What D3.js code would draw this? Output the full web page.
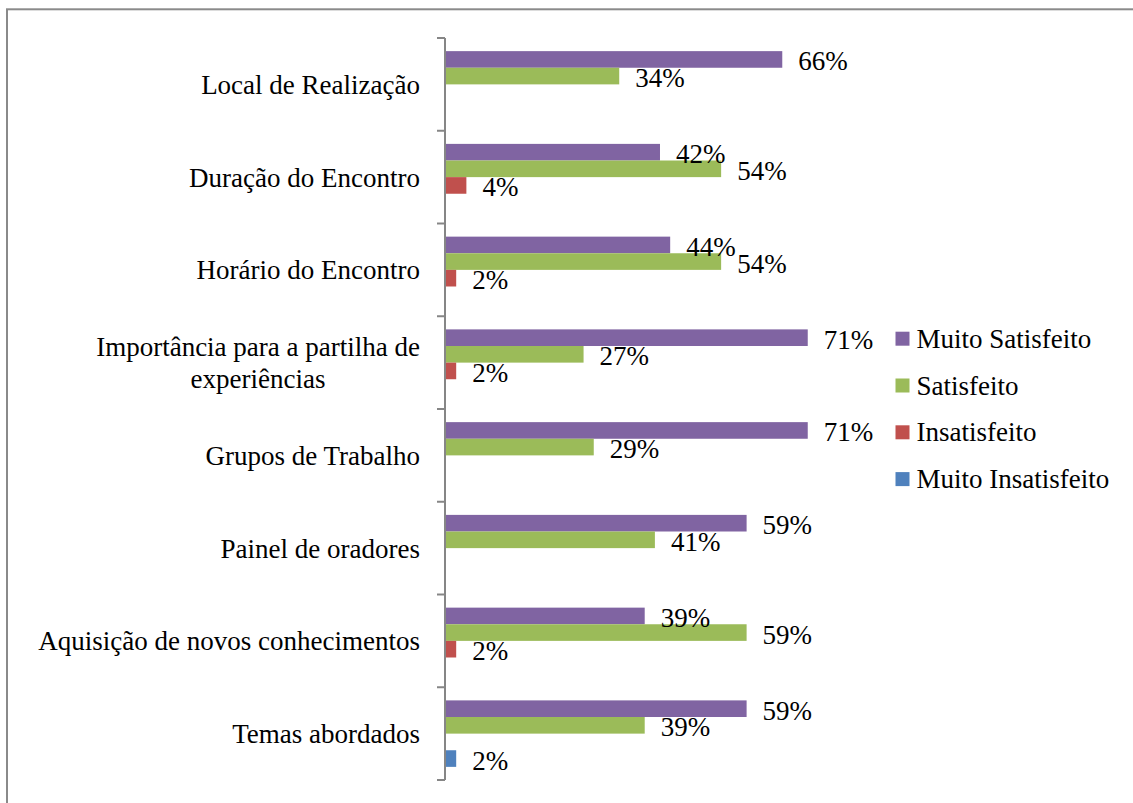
<!DOCTYPE html>
<html>
<head>
<meta charset="utf-8">
<script src="https://cdn.jsdelivr.net/npm/d3@7"></script>
<style>
  html, body { margin: 0; padding: 0; background: #fff; }
  svg { display: block; }
  text { font-family: "Liberation Serif", "DejaVu Serif", serif; fill: #000; }
</style>
</head>
<body>
<div id="chart"></div>
<script>
// ---- data ----
const categories = [
    "Local de Realização",
    "Duração do Encontro",
    "Horário do Encontro",
    "Importância para a partilha de experiências",
    "Grupos de Trabalho",
    "Painel de oradores",
    "Aquisição de novos conhecimentos",
    "Temas abordados"
];
const seriesNames = ["Muito Satisfeito", "Satisfeito", "Insatisfeito", "Muito Insatisfeito"];
const muitoSatisfeito   = [66, 42, 44, 71, 71, 59, 39, 59];
const satisfeito        = [34, 54, 54, 27, 29, 41, 59, 39];
const insatisfeito      = [0, 4, 2, 2, 0, 0, 2, 0];
const muitoInsatisfeito = [0, 0, 0, 0, 0, 0, 0, 2];
const seriesValues = [muitoSatisfeito, satisfeito, insatisfeito, muitoInsatisfeito];
const colors = ["#8064A2", "#9BBB59", "#C0504D", "#4F81BD"];

const width = 1133, height = 803;
const fontSize = 27;

const svg = d3.select("#chart").append("svg")
    .attr("width", width)
    .attr("height", height);

/* outer frame (only left and top edges visible) */
svg.append("rect")
    .attr("x", 7).attr("y", 9.3)
    .attr("width", 2000).attr("height", 2000)
    .attr("fill", "none")
    .attr("stroke", "#8a8a8a")
    .attr("stroke-width", 2);

/* scales */
const x = d3.scaleLinear().domain([0, 80]).range([446, 853.6]);
const y = d3.scaleBand().domain(categories).range([38, 780]).padding(0);
const inner = d3.scaleBand().domain(seriesNames).range([0, y.bandwidth()]).paddingOuter(0.79).paddingInner(0);

/* category axis */
const axisX = 445;
svg.append("line")
    .attr("x1", axisX).attr("x2", axisX)
    .attr("y1", 38).attr("y2", 780)
    .attr("stroke", "#868686").attr("stroke-width", 2);

const tickYs = categories.map(c => y(c)).concat([780]);
svg.selectAll("line.tick")
    .data(tickYs)
    .enter()
    .append("line")
    .attr("class", "tick")
    .attr("x1", axisX - 8).attr("x2", axisX)
    .attr("y1", d => d).attr("y2", d => d)
    .attr("stroke", "#868686").attr("stroke-width", 2);

/* category labels, wrapped if too long */
const labelG = svg.append("g");
categories.forEach(function (cat) {
    const cy = y(cat) + y.bandwidth() / 2;
    const words = cat.split(" ");
    const probe = labelG.append("text").attr("font-size", fontSize);
    let lines = [];
    let cur = [];
    words.forEach(function (w) {
        const test = cur.concat([w]).join(" ");
        probe.text(test);
        if (probe.node().getComputedTextLength() > 410 && cur.length) {
            lines.push(cur.join(" "));
            cur = [w];
        } else {
            cur.push(w);
        }
    });
    lines.push(cur.join(" "));
    probe.remove();

    const lh = 32;
    const widths = [];
    lines.forEach(function (line, i) {
        const t = labelG.append("text")
            .attr("font-size", fontSize)
            .attr("y", cy + 9.5 + (i - (lines.length - 1) / 2) * lh)
            .text(line);
        widths.push(t.node().getComputedTextLength());
    });
    const maxW = d3.max(widths);
    // block right-aligned at 420, lines centred within the block
    labelG.selectAll("text").filter(function () { return !this.__done; }).each(function (d, i) {
        this.__done = true;
        d3.select(this)
            .attr("text-anchor", "middle")
            .attr("x", 420 - maxW / 2);
    });
});

/* bars */
const bars = [];
categories.forEach(function (cat, ci) {
    seriesNames.forEach(function (s, si) {
        const v = seriesValues[si][ci];
        if (v > 0) bars.push({ cat: cat, series: s, value: v, color: colors[si] });
    });
});

svg.selectAll("rect.bar")
    .data(bars)
    .enter()
    .append("rect")
    .attr("class", "bar")
    .attr("x", x(0))
    .attr("y", d => y(d.cat) + inner(d.series))
    .attr("width", d => x(d.value) - x(0))
    .attr("height", inner.bandwidth())
    .attr("fill", d => d.color);

/* data labels */
svg.selectAll("text.val")
    .data(bars)
    .enter()
    .append("text")
    .attr("class", "val")
    .attr("font-size", fontSize)
    .attr("x", d => x(d.value) + 16)
    .attr("y", d => y(d.cat) + inner(d.series) + inner.bandwidth() / 2 + 11)
    .text(d => d.value + "%");

/* legend */
const legend = svg.append("g");
seriesNames.forEach(function (s, i) {
    const cy = 338.7 + i * 46.8;
    legend.append("rect")
        .attr("x", 895.5).attr("y", cy - 7)
        .attr("width", 14).attr("height", 14)
        .attr("fill", colors[i]);
    legend.append("text")
        .attr("font-size", fontSize)
        .attr("x", 916.5)
        .attr("y", cy + 9)
        .text(s);
});
</script>
</body>
</html>
